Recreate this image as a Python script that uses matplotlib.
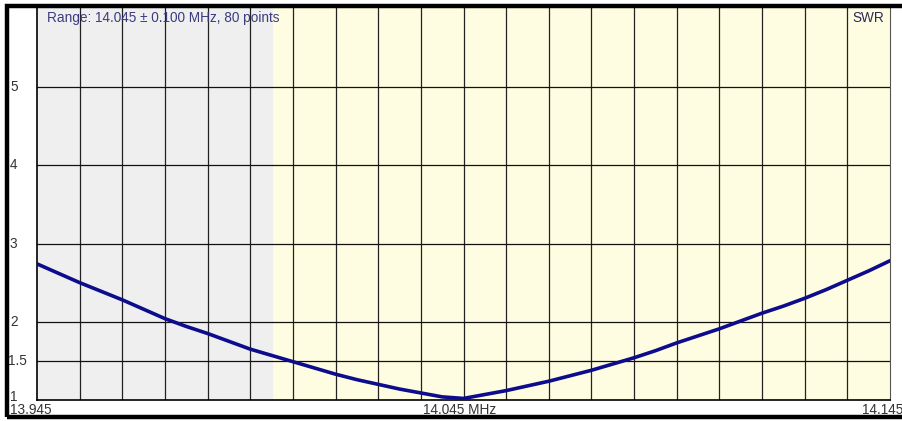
#!/usr/bin/env python3

import matplotlib
matplotlib.use("Agg")
import matplotlib.pyplot as plt
from matplotlib.patches import Rectangle
from matplotlib.transforms import blended_transform_factory

CENTER = 14.045
SPAN = 0.100
BAND_EDGE = 14.000

freqs = [13.945, 13.950, 13.955, 13.960, 13.965, 13.970, 13.975, 13.980,
         13.985, 13.990, 13.995, 14.000, 14.005, 14.010, 14.015, 14.020,
         14.025, 14.030, 14.035, 14.040, 14.045, 14.050, 14.055, 14.060,
         14.065, 14.070, 14.075, 14.080, 14.085, 14.090, 14.095, 14.100,
         14.105, 14.110, 14.115, 14.120, 14.125, 14.130, 14.135, 14.140,
         14.145]
swr = [2.74, 2.62, 2.50, 2.39, 2.28, 2.16, 2.04, 1.94,
       1.85, 1.75, 1.65, 1.57, 1.49, 1.41, 1.33, 1.26,
       1.20, 1.14, 1.09, 1.04, 1.02, 1.07, 1.12, 1.18,
       1.24, 1.31, 1.38, 1.46, 1.54, 1.63, 1.73, 1.82,
       1.91, 2.01, 2.11, 2.20, 2.30, 2.41, 2.53, 2.65,
       2.78]

swr_ticks = [1, 1.5, 2, 3, 4, 5]
swr_labels = ["1", "1.5", "2", "3", "4", "5"]

plt.rcParams['font.family'] = ['Liberation Sans', 'DejaVu Sans']
FS = 9.8

fig = plt.figure(figsize=(9.02, 4.21), dpi=100)
fig.patch.set_facecolor("white")
ax = fig.add_axes([37 / 902, 21 / 421, 853 / 902, 392 / 421])

lo, hi = CENTER - SPAN, CENTER + SPAN
ax.set_xlim(lo, hi)
ax.set_ylim(1, 6.01)
ax.set_facecolor("#fffde1")
ax.axvspan(lo, BAND_EDGE, color="#efefef", zorder=0)

# grid
for k in range(1, 20):
    ax.axvline(lo + k * 0.01, color="#222222", lw=0.9, zorder=1)
for v in swr_ticks[1:]:
    ax.axhline(v, color="#111111", lw=0.9, zorder=1)

ax.plot(freqs, swr, color="#0c0c8c", lw=2.6, zorder=3, solid_capstyle="round")

ax.set_xticks([])
ax.set_yticks([])
ax.spines["top"].set_visible(False)
ax.spines["left"].set_color("black")
ax.spines["bottom"].set_color("black")
ax.spines["right"].set_color("#555555")
ax.spines["left"].set_linewidth(1.2)
ax.spines["bottom"].set_linewidth(1.2)

# y labels sit in the left margin, next to the window frame
lbl_tr = blended_transform_factory(fig.transFigure, ax.transData)
for v, lab in zip(swr_ticks, swr_labels):
    off = 0.04 if v == 1 else 0
    x0 = 8 / 902 if lab == "1.5" else 10 / 902
    fig.text(x0, v + off, lab, transform=lbl_tr,
             ha="left", va="center", fontsize=FS, color="#333333")

ax.text(0.012, 0.975, "Range: %.3f \u00b1 %.3f MHz, 80 points" % (CENTER, SPAN),
        transform=ax.transAxes, ha="left", va="center", fontsize=FS,
        color="#3b3b80")
ax.text(0.9555, 0.975, "SWR", transform=ax.transAxes, ha="left", va="center",
        fontsize=FS, color="#2a2a55")

ybot = 1 - 410 / 421
fig.text(10 / 902, ybot, "%.3f" % lo, ha="left", va="center",
         fontsize=FS, color="#333333")
fig.text(460 / 902, ybot, "%.3f MHz" % CENTER, ha="center",
         va="center", fontsize=FS, color="#333333")
fig.text(862 / 902, ybot, "%.3f" % hi, ha="left", va="center",
         fontsize=FS, color="#333333")

# thick outer frame of the window
fig.patches.append(Rectangle((7 / 902, 4 / 421), 1.2, 411 / 421,
                             transform=fig.transFigure, fill=False,
                             edgecolor="black", lw=3.2, zorder=10))

fig.savefig("out.png", dpi=100)
